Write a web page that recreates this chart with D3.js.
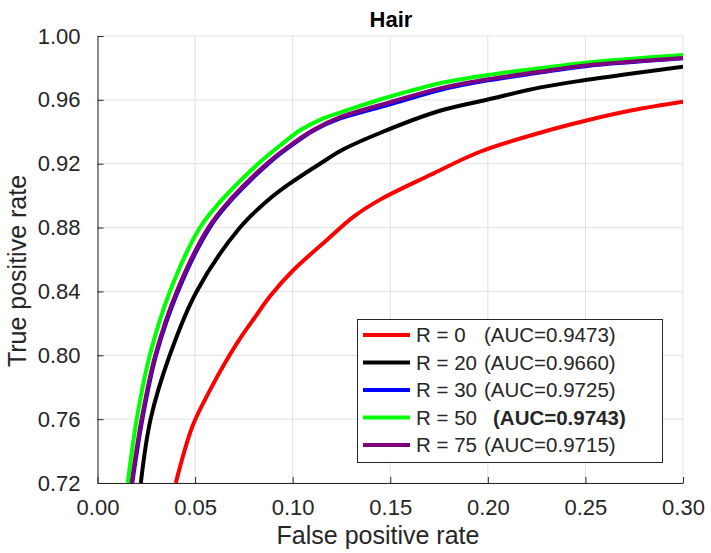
<!DOCTYPE html>
<html>
<head>
<meta charset="utf-8">
<script src="https://cdn.jsdelivr.net/npm/d3@7"></script>
<style>
  body { margin: 0; background: #fff; }
  text { font-family: "Liberation Sans", Arial, sans-serif; fill: #262626; }
</style>
</head>
<body>
<div class="container"></div>
<script>
// ROC points: [false positive rate, true positive rate]
const rocR0 = [[0.0401, 0.72], [0.0488, 0.756], [0.0577, 0.7783], [0.065, 0.7945], [0.0725, 0.8095],
  [0.0805, 0.8235], [0.0884, 0.837], [0.1004, 0.8534], [0.1175, 0.8722], [0.1311, 0.8867],
  [0.1448, 0.8975], [0.1704, 0.9129], [0.196, 0.9275], [0.2268, 0.9394], [0.25, 0.9469],
  [0.2746, 0.9536], [0.30, 0.9588]];
const rocR20 = [[0.0222, 0.72], [0.0272, 0.76], [0.037, 0.80], [0.0508, 0.84],
  [0.073, 0.88], [0.0875, 0.8973], [0.0987, 0.9077], [0.114, 0.92], [0.126, 0.929], [0.145, 0.9394],
  [0.175, 0.953], [0.20, 0.9602], [0.227, 0.9678], [0.25, 0.9724], [0.30, 0.9808]];
const rocR30 = [[0.0178, 0.72], [0.023, 0.76], [0.0300, 0.80], [0.0412, 0.84],
  [0.0575, 0.88], [0.0686, 0.8973], [0.0875, 0.92], [0.0978, 0.93], [0.1112, 0.9411], [0.124, 0.9482],
  [0.15, 0.9572], [0.1755, 0.9662], [0.20, 0.9722], [0.2268, 0.9771], [0.25, 0.9811], [0.30, 0.986]];
const rocR50 = [[0.0155, 0.72], [0.0201, 0.76], [0.0268, 0.80], [0.0371, 0.84],
  [0.0525, 0.88], [0.0637, 0.8973], [0.0823, 0.92], [0.0935, 0.9314], [0.104, 0.9411], [0.1157, 0.9484],
  [0.129, 0.954], [0.15, 0.9621], [0.1755, 0.9704], [0.20, 0.9756], [0.2268, 0.9798],
  [0.25, 0.9833], [0.30, 0.9881]];
const rocR75 = [[0.0175, 0.72], [0.0226, 0.76], [0.0296, 0.80], [0.0406, 0.84],
  [0.0568, 0.88], [0.0679, 0.8973], [0.0867, 0.92], [0.097, 0.93], [0.1105, 0.9411], [0.124, 0.949],
  [0.15, 0.9585], [0.1755, 0.9672], [0.20, 0.9729], [0.2268, 0.9776], [0.25, 0.9815], [0.30, 0.9862]];

const radii = ["R = 0", "R = 20", "R = 30", "R = 50", "R = 75"];
const aucs = ["(AUC=0.9473)", "(AUC=0.9660)", "(AUC=0.9725)", "(AUC=0.9743)", "(AUC=0.9715)"];
const colors = ["#ff0000", "#000000", "#0000ff", "#00ff00", "#7f007f"];
const curves = [rocR0, rocR20, rocR30, rocR50, rocR75];
const xTicks = [0, 0.05, 0.10, 0.15, 0.20, 0.25, 0.30];
const yTicks = [0.72, 0.76, 0.80, 0.84, 0.88, 0.92, 0.96, 1.00];

const w = 711;
const h = 553;
const plotLeft = 97.5, plotRight = 683, plotTop = 36, plotBottom = 483;

const svg = d3.select(".container")
  .append("svg")
  .attr("width", w)
  .attr("height", h)
  .style("background", "white");

const xScale = d3.scaleLinear().domain([0, 0.30]).range([plotLeft, plotRight]);
const yScale = d3.scaleLinear().domain([0.72, 1.00]).range([plotBottom, plotTop]);

// grid
svg.append("g").selectAll("line")
  .data(xTicks)
  .enter().append("line")
  .attr("x1", d => xScale(d)).attr("x2", d => xScale(d))
  .attr("y1", plotTop).attr("y2", plotBottom)
  .attr("stroke", "#e1e1e1").attr("stroke-width", 1);
svg.append("g").selectAll("line")
  .data(yTicks)
  .enter().append("line")
  .attr("x1", plotLeft).attr("x2", plotRight)
  .attr("y1", d => yScale(d)).attr("y2", d => yScale(d))
  .attr("stroke", "#e1e1e1").attr("stroke-width", 1);

// curves
svg.append("clipPath").attr("id", "plot")
  .append("rect")
  .attr("x", plotLeft).attr("y", plotTop)
  .attr("width", plotRight - plotLeft).attr("height", plotBottom - plotTop);

const line = d3.line()
  .x(d => xScale(d[0]))
  .y(d => yScale(d[1]))
  .curve(d3.curveCatmullRom.alpha(0.5));

svg.append("g").attr("clip-path", "url(#plot)")
  .selectAll("path")
  .data(curves)
  .enter().append("path")
  .attr("d", line)
  .attr("fill", "none")
  .attr("stroke", (d, i) => colors[i])
  .attr("stroke-width", 4)
  .attr("stroke-linejoin", "round");

// axes
const xAxis = d3.axisBottom(xScale)
  .tickValues(xTicks)
  .tickFormat(d3.format(".2f"))
  .tickSizeInner(-6).tickSizeOuter(0).tickPadding(16);
const yAxis = d3.axisLeft(yScale)
  .tickValues(yTicks)
  .tickFormat(d3.format(".2f"))
  .tickSizeInner(-6).tickSizeOuter(0).tickPadding(17);

const gx = svg.append("g")
  .attr("transform", "translate(0," + plotBottom + ")")
  .call(xAxis);
const gy = svg.append("g")
  .attr("transform", "translate(" + plotLeft + ",0)")
  .call(yAxis);

[gx, gy].forEach(g => {
  g.select(".domain").attr("stroke", "#262626");
  g.selectAll(".tick line").attr("stroke", "#262626");
  g.selectAll(".tick text")
    .attr("font-size", 22)
    .attr("font-family", "Liberation Sans, Arial, sans-serif")
    .style("fill", "#262626");
});

// labels
svg.append("text")
  .attr("x", 391).attr("y", 27)
  .attr("text-anchor", "middle")
  .attr("font-size", 22).attr("font-weight", "bold")
  .style("fill", "#000")
  .text("Hair");
svg.append("text")
  .attr("x", 378).attr("y", 544)
  .attr("text-anchor", "middle")
  .attr("font-size", 25)
  .text("False positive rate");
svg.append("text")
  .attr("transform", "translate(26,271) rotate(-90)")
  .attr("text-anchor", "middle")
  .attr("font-size", 25)
  .text("True positive rate");

// legend
const legend = svg.append("g");
legend.append("rect")
  .attr("x", 357.5).attr("y", 319.5)
  .attr("width", 305).attr("height", 143)
  .attr("fill", "white").attr("stroke", "#262626").attr("stroke-width", 1);

const rows = legend.selectAll("g.row")
  .data(radii)
  .enter().append("g")
  .attr("transform", (d, i) => "translate(0," + (335 + i * 27.5) + ")");
rows.append("line")
  .attr("x1", 363).attr("x2", 410)
  .attr("y1", 0).attr("y2", 0)
  .attr("stroke", (d, i) => colors[i])
  .attr("stroke-width", 4);
rows.append("text")
  .attr("x", 416).attr("y", 7)
  .attr("font-size", 20.5)
  .text(d => d);
rows.append("text")
  .attr("x", (d, i) => i === 3 ? 493 : 484).attr("y", 7)
  .attr("font-size", 20.5)
  .attr("font-weight", (d, i) => i === 3 ? "bold" : "normal")
  .text((d, i) => aucs[i]);
</script>
</body>
</html>
